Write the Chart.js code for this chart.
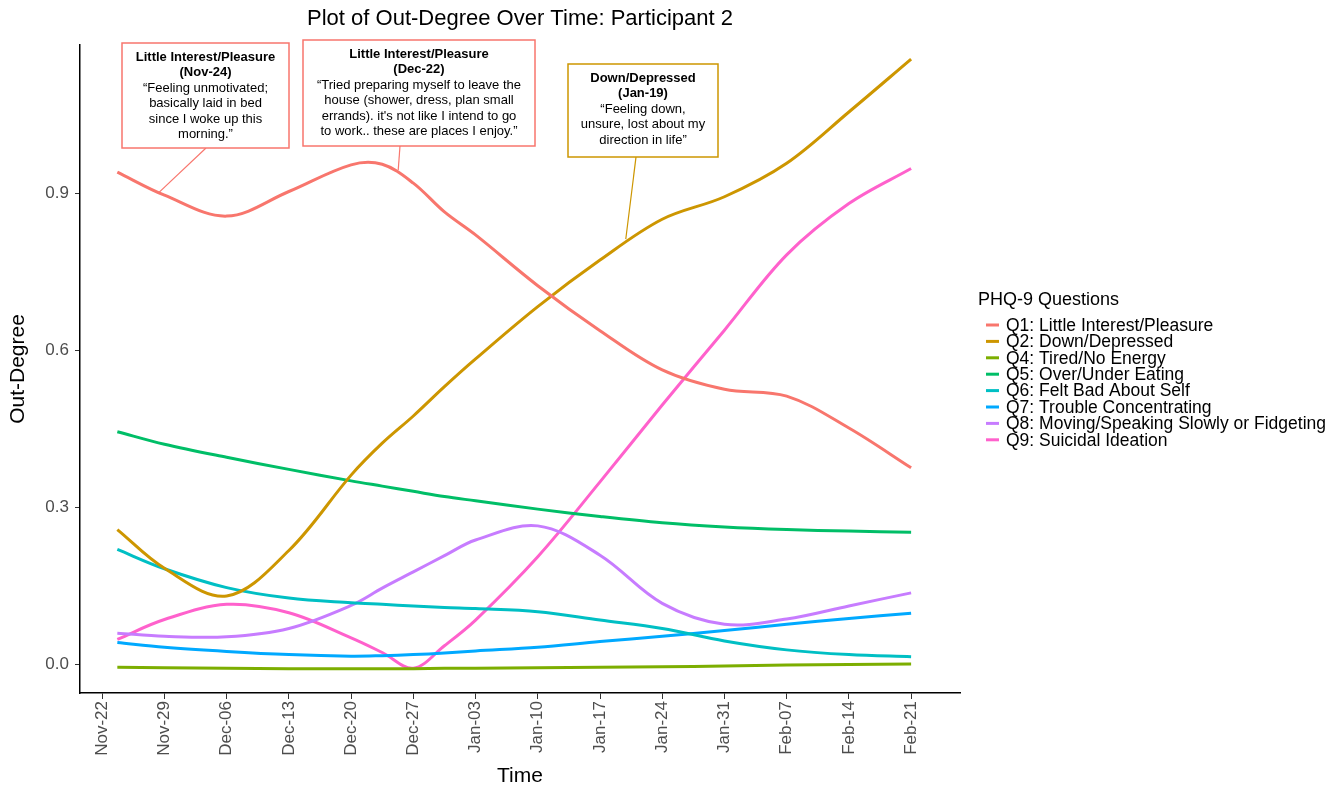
<!DOCTYPE html>
<html>
<head>
<meta charset="utf-8">
<script src="https://cdn.jsdelivr.net/npm/chart.js@4.4.1/dist/chart.umd.min.js"></script>
<style>
  html, body { margin: 0; padding: 0; background: #fff; }
</style>
</head>
<body>
<canvas id="chart" width="1326" height="786"></canvas>
<script>
// tick labels, one per week starting Nov-22
const tickLabels = ["Nov-22", "Nov-29", "Dec-06", "Dec-13", "Dec-20", "Dec-27", "Jan-03",
  "Jan-10", "Jan-17", "Jan-24", "Jan-31", "Feb-07", "Feb-14", "Feb-21"];

// sample times, days after Nov-22
const days = [1.7, 7, 14, 21, 28, 31.5, 35, 38.5, 42, 49, 56, 63, 70, 77, 84, 91];

const q1 = [0.94, 0.896, 0.856, 0.903, 0.954, 0.955, 0.919, 0.864, 0.82, 0.723, 0.637, 0.562, 0.525, 0.512, 0.451, 0.375];
const q2 = [0.257, 0.183, 0.13, 0.217, 0.361, 0.422, 0.474, 0.53, 0.583, 0.683, 0.772, 0.85, 0.893, 0.957, 1.055, 1.156];
const q4 = [-0.006, -0.007, -0.008, -0.009, -0.009, -0.009, -0.009, -0.008, -0.008, -0.007, -0.006, -0.005, -0.004, -0.002, -0.001, 0.0];
const q5 = [0.444, 0.42, 0.395, 0.372, 0.35, 0.34, 0.33, 0.32, 0.312, 0.296, 0.282, 0.27, 0.262, 0.257, 0.254, 0.252];
const q6 = [0.219, 0.182, 0.146, 0.126, 0.117, 0.114, 0.111, 0.108, 0.106, 0.1, 0.084, 0.068, 0.044, 0.027, 0.018, 0.014];
const q7 = [0.041, 0.032, 0.024, 0.018, 0.015, 0.016, 0.018, 0.021, 0.025, 0.032, 0.043, 0.053, 0.064, 0.076, 0.087, 0.097];
const q8 = [0.059, 0.053, 0.052, 0.068, 0.112, 0.145, 0.176, 0.207, 0.237, 0.264, 0.208, 0.116, 0.076, 0.086, 0.111, 0.136];
const q9 = [0.047, 0.085, 0.114, 0.098, 0.05, 0.022, -0.008, 0.035, 0.084, 0.205, 0.348, 0.495, 0.638, 0.782, 0.88, 0.947];

const seriesNames = ["Q1: Little Interest/Pleasure", "Q2: Down/Depressed", "Q4: Tired/No Energy",
  "Q5: Over/Under Eating", "Q6: Felt Bad About Self", "Q7: Trouble Concentrating",
  "Q8: Moving/Speaking Slowly or Fidgeting", "Q9: Suicidal Ideation"];
const seriesValues = [q1, q2, q4, q5, q6, q7, q8, q9];
const yTicks = [0, 0.3, 0.6, 0.9];

const colors = ["#F8766D", "#CD9600", "#7CAE00", "#00BE67", "#00BFC4", "#00A9FF", "#C77CFF", "#FF61CC"];
const FONT = "'Liberation Sans', Arial, Helvetica, sans-serif";

// quote boxes: pointer end is given in data units (day, value)
const notes = [
  { series: 0, head: ["Little Interest/Pleasure", "(Nov-24)"],
    body: ["\u201CFeeling unmotivated;", "basically laid in bed", "since I woke up this", "morning.\u201D"],
    box: [122, 43, 167, 105], from: [206, 148], day: 6.3, value: 0.9 },
  { series: 0, head: ["Little Interest/Pleasure", "(Dec-22)"],
    body: ["\u201CTried preparing myself to leave the", "house (shower, dress, plan small",
      "errands). it's not like I intend to go", "to work.. these are places I enjoy.\u201D"],
    box: [303, 40, 232, 106], from: [400, 146], day: 33.3, value: 0.944 },
  { series: 1, head: ["Down/Depressed", "(Jan-19)"],
    body: ["\u201CFeeling down,", "unsure, lost about my", "direction in life\u201D"],
    box: [568, 64, 150, 93], from: [636, 157], day: 58.9, value: 0.812 }
];

const datasets = seriesValues.map((vals, i) => ({
  label: seriesNames[i],
  data: vals.map((v, j) => ({ x: days[j], y: v })),
  borderColor: colors[i],
  backgroundColor: colors[i],
  borderWidth: 3,
  pointRadius: 0,
  tension: 0.35,
  fill: false
}));

const decorPlugin = {
  id: "decor",
  afterDatasetsDraw(chart) {
    const ctx = chart.ctx;
    const xs = chart.scales.x, ys = chart.scales.y;
    ctx.save();
    // annotation boxes
    notes.forEach(n => {
      const c = colors[n.series];
      const [bx, by, bw, bh] = n.box;
      ctx.strokeStyle = c;
      ctx.lineWidth = 1.2;
      ctx.beginPath();
      ctx.moveTo(n.from[0], n.from[1]);
      ctx.lineTo(xs.getPixelForValue(n.day), ys.getPixelForValue(n.value));
      ctx.stroke();
      ctx.fillStyle = "#fff";
      ctx.fillRect(bx, by, bw, bh);
      ctx.lineWidth = 1.5;
      ctx.strokeRect(bx, by, bw, bh);
      ctx.fillStyle = "#000";
      ctx.textAlign = "center";
      ctx.textBaseline = "middle";
      const cx = bx + bw / 2;
      let y = by + 14.5;
      ctx.font = "bold 13px " + FONT;
      n.head.forEach(t => { ctx.fillText(t, cx, y); y += 15.4; });
      ctx.font = "13px " + FONT;
      n.body.forEach(t => { ctx.fillText(t, cx, y); y += 15.4; });
    });
    ctx.restore();
  },
  afterDraw(chart) {
    const ctx = chart.ctx;
    const area = chart.chartArea;
    ctx.save();
    ctx.fillStyle = "#000";
    ctx.textBaseline = "middle";
    // title
    ctx.textAlign = "center";
    ctx.font = "22px " + FONT;
    ctx.fillText("Plot of Out-Degree Over Time: Participant 2", (area.left + area.right) / 2, 19);
    // axis titles
    ctx.font = "21px " + FONT;
    ctx.fillText("Time", (area.left + area.right) / 2, 776);
    ctx.save();
    ctx.translate(18, (area.top + area.bottom) / 2);
    ctx.rotate(-Math.PI / 2);
    ctx.fillText("Out-Degree", 0, 0);
    ctx.restore();
    // legend
    ctx.textAlign = "left";
    ctx.font = "18px " + FONT;
    ctx.fillText("PHQ-9 Questions", 978, 300);
    ctx.font = "17.5px " + FONT;
    seriesNames.forEach((name, i) => {
      const y = 325 + i * 16.4;
      ctx.strokeStyle = colors[i];
      ctx.lineWidth = 3;
      ctx.beginPath();
      ctx.moveTo(986, y);
      ctx.lineTo(999, y);
      ctx.stroke();
      ctx.fillStyle = "#000";
      ctx.fillText(name, 1006, y + 1);
    });
    ctx.restore();
  }
};

new Chart(document.getElementById("chart"), {
  type: "line",
  data: { datasets: datasets },
  options: {
    responsive: false,
    animation: false,
    layout: { padding: { left: 0, right: 366, top: 45, bottom: 0 } },
    plugins: { legend: { display: false }, tooltip: { enabled: false }, title: { display: false } },
    scales: {
      x: {
        type: "linear",
        min: -2.5,
        max: 96.5,
        afterBuildTicks: s => { s.ticks = tickLabels.map((_, i) => ({ value: i * 7 })); },
        afterFit: s => { s.height = 93; },
        ticks: {
          autoSkip: false,
          minRotation: 90,
          maxRotation: 90,
          padding: 2,
          color: "#4d4d4d",
          font: { family: FONT, size: 17 },
          callback: v => tickLabels[Math.round(v / 7)]
        },
        grid: { display: true, drawOnChartArea: false, drawTicks: true, tickLength: 6, tickColor: "#333", tickWidth: 1 },
        border: { display: true, color: "#000", width: 1.5 }
      },
      y: {
        min: -0.0554,
        max: 1.183,
        afterBuildTicks: s => { s.ticks = yTicks.map(v => ({ value: v })); },
        afterFit: s => { s.width = 80; },
        ticks: {
          padding: 6,
          color: "#4d4d4d",
          font: { family: FONT, size: 17 },
          callback: v => v.toFixed(1)
        },
        grid: { display: true, drawOnChartArea: false, drawTicks: true, tickLength: 5, tickColor: "#333", tickWidth: 1 },
        border: { display: true, color: "#000", width: 1.5 }
      }
    }
  },
  plugins: [decorPlugin]
});
</script>
</body>
</html>
